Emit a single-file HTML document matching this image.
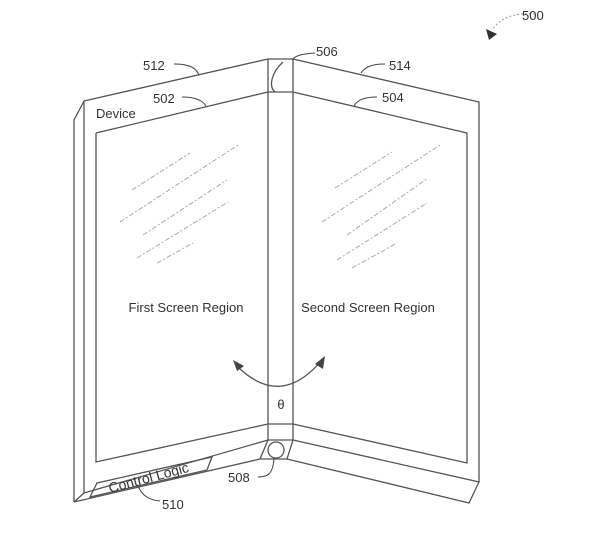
<!DOCTYPE html>
<html><head><meta charset="utf-8"><style>
html,body{margin:0;padding:0;background:#fff;}
svg{display:block}
text{font-family:"Liberation Sans",sans-serif;fill:#333;}
</style></head><body>
<svg width="600" height="547" viewBox="0 0 600 547" xmlns="http://www.w3.org/2000/svg">
<g fill="none" stroke="#555" stroke-width="1.3">
<path d="M84,101 L268,59"/>
<path d="M84,101 L74,120 L74,502"/>
<path d="M84,101 L84,493"/>
<path d="M96,133 L268,92"/>
<path d="M96,133 L96,462 L268,424"/>
<path d="M84,493 L268,440"/>
<path d="M74,502 L260,459"/>
<path d="M74,502 L84,493"/>
<path d="M268,59 L268,440 M293,59 L293,440 M268,59 L293,59"/>
<path d="M268,92 L293,92 M268,424 L293,424 M268,440 L293,440"/>
<path d="M268,440 L260,459 L287,459 L293,440"/>
<circle cx="276" cy="450" r="8"/>
<path d="M283,62 C272,72 268,86 275,92"/>
<path d="M293,59 L479,102 L479,482"/>
<path d="M293,92 L467,133 L467,463 L293,424"/>
<path d="M293,440 L479,482 L469,503 L287,459"/>
<path d="M90,497 L97,483 L212,457 L207,470 Z"/>
<path d="M236,365 Q280,410 322,360"/>
</g>
<g fill="#444"><path d="M233,360 L244,366 L237,371 Z"/><path d="M325,356 L323,369 L315,364 Z"/></g>
<g fill="none" stroke="#444" stroke-width="1">
<path d="M174,64 C190,64 196,68 199,75"/>
<path d="M182,97 C196,97 203,101 206,106"/>
<path d="M315,53 C300,54 295,56 292,60"/>
<path d="M385,64 C372,64 365,67 361,73"/>
<path d="M377,97 C364,97 357,100 354,106"/>
<path d="M258,477 C268,477 273,474 274,458"/>
<path d="M160,501 C148,500 142,495 138,486"/>
<path d="M535,14 C515,12 500,18 492,30" stroke-dasharray="2,2" stroke="#999"/>
</g>
<path d="M486,29 L497,34 L489,40 Z" fill="#333"/>
<g stroke="#aaa" stroke-width="1" stroke-dasharray="5,2,2,2">
<path d="M132,190 L190,153 M120,222 L238,145 M143,235 L227,180 M137,258 L228,202 M157,263 L193,243"/>
<path d="M335,188 L392,152 M322,222 L440,145 M347,235 L428,178 M337,260 L427,203 M352,268 L397,243"/>
</g>
<g font-size="13">
<text x="522" y="20">500</text>
<text x="143" y="70">512</text>
<text x="153" y="103">502</text>
<text x="96" y="118">Device</text>
<text x="316" y="56">506</text>
<text x="389" y="70">514</text>
<text x="382" y="102">504</text>
<text x="186" y="312" text-anchor="middle">First Screen Region</text>
<text x="368" y="312" text-anchor="middle">Second Screen Region</text>
<text x="281" y="409" text-anchor="middle">θ</text>
<text x="228" y="482">508</text>
<text x="162" y="509">510</text>
<text x="110" y="493" font-size="14" transform="rotate(-15 110 493)">Control Logic</text>
</g>
</svg>
</body></html>
